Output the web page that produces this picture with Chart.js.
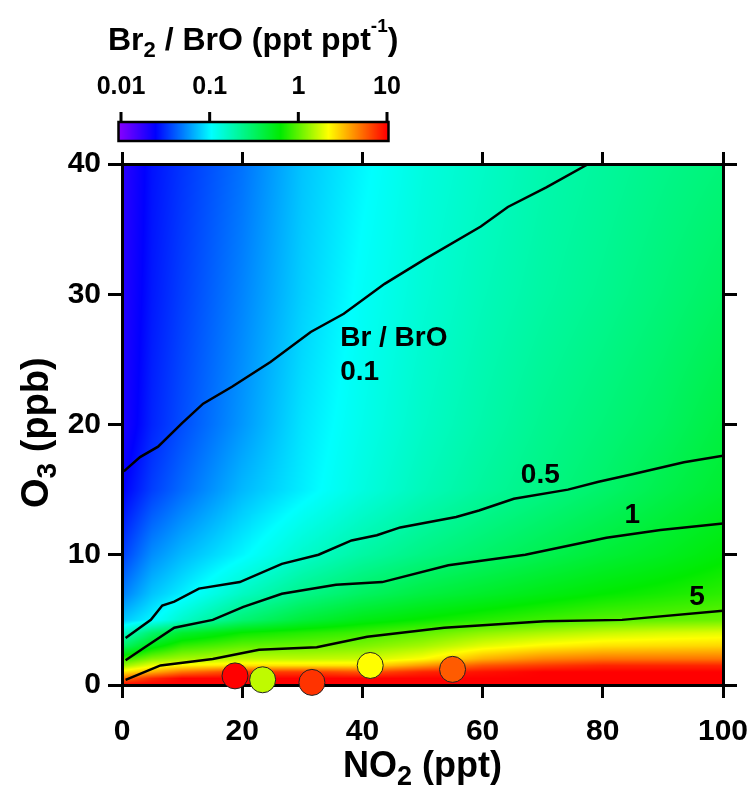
<!DOCTYPE html>
<html>
<head>
<meta charset="utf-8">
<script src="https://cdn.jsdelivr.net/npm/chart.js@4.4.1/dist/chart.umd.min.js"></script>
<style>
html, body { margin: 0; padding: 0; background: #fff; }
canvas { display: block; }
</style>
</head>
<body>
<canvas id="grafico" width="756" height="791" style="width:756px;height:791px"></canvas>
<script>
// grid of the modelled Br2/BrO field (ppt/ppt)
const no2Grid = [0, 5, 10, 20, 30, 40, 50, 60, 70, 80, 90, 100];
const o3Grid = [0, 0.5, 1, 1.5, 2, 3, 4, 5, 7, 10, 15, 20, 30, 40];
const ratioGrid = [
  [10, 10, 10, 10, 10, 10, 10, 10, 10, 10, 10, 10],
  [5, 8, 10, 10, 10, 10, 10, 10, 10, 10, 10, 10],
  [2.5, 3.5, 5, 7, 7, 6, 8, 9, 10, 10, 10, 10],
  [1.3, 2, 2.3, 2.6, 2.6, 2.6, 4, 6, 7, 8, 8, 8],
  [0.8, 1.2, 1.4, 1.6, 1.6, 1.7, 2.2, 3.5, 4.5, 5, 5, 5],
  [0.3, 0.55, 0.8, 1.0, 1.05, 1.15, 1.4, 1.9, 2.3, 2.6, 2.7, 2.8],
  [0.15, 0.3, 0.45, 0.65, 0.75, 0.85, 1.0, 1.25, 1.45, 1.65, 1.8, 1.9],
  [0.075, 0.1, 0.15, 0.28, 0.42, 0.55, 0.65, 0.75, 0.85, 0.95, 1.0, 1.05],
  [0.05, 0.075, 0.095, 0.16, 0.24, 0.32, 0.4, 0.47, 0.55, 0.63, 0.7, 0.78],
  [0.035, 0.055, 0.07, 0.1, 0.15, 0.2, 0.25, 0.3, 0.36, 0.43, 0.5, 0.6],
  [0.024, 0.035, 0.045, 0.07, 0.095, 0.13, 0.17, 0.21, 0.25, 0.3, 0.37, 0.45],
  [0.02, 0.03, 0.038, 0.058, 0.09, 0.12, 0.155, 0.19, 0.23, 0.27, 0.32, 0.4],
  [0.019, 0.028, 0.035, 0.052, 0.08, 0.11, 0.14, 0.17, 0.2, 0.23, 0.27, 0.32],
  [0.018, 0.027, 0.033, 0.047, 0.075, 0.1, 0.13, 0.155, 0.185, 0.21, 0.24, 0.27]
];

// Br/BrO contours
const c01_no2 = [0.3, 3, 6, 10, 13.5, 18.3, 24.7, 31.4, 36.9, 43.7, 50.4, 59.7, 64.2, 70.6, 77.6];
const c01_o3 = [16.4, 17.5, 18.3, 20.1, 21.6, 22.9, 24.8, 27.1, 28.5, 30.8, 32.7, 35.2, 36.7, 38.2, 40];
const c05_no2 = [0.6, 4.8, 6.7, 8.7, 12.8, 19.6, 26.6, 32.7, 38.2, 42.4, 46.3, 55.6, 59.4, 65.2, 74.2, 79.3, 85.1, 93.5, 100];
const c05_o3 = [3.6, 5.0, 6.1, 6.4, 7.4, 7.9, 9.3, 10.0, 11.1, 11.5, 12.1, 12.9, 13.4, 14.3, 15.0, 15.6, 16.2, 17.1, 17.6];
const c1_no2 = [0.6, 3.5, 8.7, 15.1, 20.2, 26.6, 35.6, 43.3, 54.3, 67.1, 80.6, 89.6, 100];
const c1_o3 = [1.9, 2.8, 4.4, 5.0, 6.0, 7.0, 7.7, 7.9, 9.2, 10.0, 11.3, 11.9, 12.4];
const c5_no2 = [0.6, 6.4, 15.1, 22.8, 32.4, 40.8, 53.6, 70.3, 83.2, 100];
const c5_o3 = [0.4, 1.5, 2.0, 2.7, 2.9, 3.7, 4.4, 4.9, 5.0, 5.7];

// observations
const obs_no2 = [18.8, 23.4, 31.6, 41.3, 55.0];
const obs_o3 = [0.7, 0.4, 0.2, 1.5, 1.2];
const obs_ratio = [10, 1.6, 7.4, 2.2, 5.8];

// contour labels
const labelText = ['Br / BrO', '0.1', '0.5', '1', '5'];
const label_no2 = [36.3, 36.3, 69.6, 84.9, 95.7];
const label_o3 = [26.6, 24.0, 16.1, 13.05, 6.75];
const labelAlign = ['left', 'left', 'center', 'center', 'center'];

// colour bar
const cbarTicks = [0.01, 0.1, 1, 10];
const cbarLabels = ['0.01', '0.1', '1', '10'];

const FONT = '"Liberation Sans", Arial, sans-serif';
const stops = [
  [0, [128, 0, 255]],
  [0.13, [0, 0, 255]],
  [0.34, [0, 255, 255]],
  [0.6, [0, 235, 0]],
  [0.78, [255, 255, 0]],
  [1, [255, 0, 0]]
];

function cmap(t) {
  t = Math.max(0, Math.min(1, t));
  for (let k = 1; k < stops.length; k++) {
    if (t <= stops[k][0]) {
      const a = stops[k - 1], b = stops[k];
      const f = (t - a[0]) / (b[0] - a[0]);
      return a[1].map((c, i) => Math.round(c + (b[1][i] - c) * f));
    }
  }
  return stops[stops.length - 1][1];
}
const logMin = Math.log10(cbarTicks[0]);
const logMax = Math.log10(cbarTicks[cbarTicks.length - 1]);
const ratioT = (v) => (Math.log10(v) - logMin) / (logMax - logMin);
const ratioColor = (v) => {
  const c = cmap(ratioT(v));
  return `rgb(${c[0]},${c[1]},${c[2]})`;
};

function cell(grid, v) {
  let i = 0;
  while (i < grid.length - 2 && v > grid[i + 1]) i++;
  const f = Math.max(0, Math.min(1, (v - grid[i]) / (grid[i + 1] - grid[i])));
  return [i, f];
}

const logGrid = ratioGrid.map(r => r.map(v => Math.log10(v)));

const heatmap = {
  id: 'heatmap',
  beforeDraw(chart) {
    const { ctx, chartArea: a, scales: { x, y } } = chart;
    const w = Math.round(a.right - a.left), h = Math.round(a.bottom - a.top);
    const off = document.createElement('canvas');
    off.width = w; off.height = h;
    const octx = off.getContext('2d');
    const img = octx.createImageData(w, h);
    for (let py = 0; py < h; py++) {
      const [j, fy] = cell(o3Grid, y.getValueForPixel(a.top + py + 0.5));
      for (let px = 0; px < w; px++) {
        const [i, fx] = cell(no2Grid, x.getValueForPixel(a.left + px + 0.5));
        const v = logGrid[j][i] * (1 - fx) * (1 - fy) + logGrid[j][i + 1] * fx * (1 - fy) +
                  logGrid[j + 1][i] * (1 - fx) * fy + logGrid[j + 1][i + 1] * fx * fy;
        const c = cmap((v - logMin) / (logMax - logMin));
        const k = (py * w + px) * 4;
        img.data[k] = c[0]; img.data[k + 1] = c[1]; img.data[k + 2] = c[2]; img.data[k + 3] = 255;
      }
    }
    octx.putImageData(img, 0, 0);
    ctx.drawImage(off, a.left, a.top);
  }
};

function drawParts(ctx, parts, x, y) {
  for (const p of parts) {
    ctx.font = `bold ${p.s}px ${FONT}`;
    ctx.fillText(p.t, x, y + (p.dy || 0));
    x += ctx.measureText(p.t).width;
  }
}

const extras = {
  id: 'extras',
  afterDatasetsDraw(chart) {
    const { ctx, scales: { x, y } } = chart;
    ctx.save();
    ctx.fillStyle = '#000';
    ctx.textBaseline = 'middle';
    ctx.font = `bold 28px ${FONT}`;
    labelText.forEach((t, i) => {
      ctx.textAlign = labelAlign[i];
      ctx.fillText(t, x.getPixelForValue(label_no2[i]), y.getPixelForValue(label_o3[i]));
    });
    ctx.restore();
  },
  afterDraw(chart) {
    const { ctx } = chart;
    ctx.save();
    ctx.fillStyle = '#000';
    ctx.textAlign = 'left';
    ctx.textBaseline = 'alphabetic';

    // x title
    drawParts(ctx, [{ t: 'NO', s: 36 }, { t: '2', s: 27, dy: 8 }, { t: ' (ppt)', s: 36 }], 343, 777);

    // y title
    ctx.save();
    ctx.translate(48, 508);
    ctx.rotate(-Math.PI / 2);
    drawParts(ctx, [{ t: 'O', s: 38 }, { t: '3', s: 28, dy: 8 }, { t: ' (ppb)', s: 38 }], 0, 0);
    ctx.restore();

    // colour bar
    const cx0 = 121, cx1 = 387, top = 122, bot = 141;
    const pos = (v) => cx0 + (cx1 - cx0) * ratioT(v);
    for (let px = 119; px < 389; px++) {
      const c = cmap((px + 0.5 - cx0) / (cx1 - cx0));
      ctx.fillStyle = `rgb(${c[0]},${c[1]},${c[2]})`;
      ctx.fillRect(px, top, 1, bot - top);
    }
    ctx.strokeStyle = '#000';
    ctx.lineWidth = 2.5;
    ctx.strokeRect(118.5, top, 270, bot - top);
    ctx.lineWidth = 3;
    ctx.beginPath();
    cbarTicks.forEach(v => {
      ctx.moveTo(pos(v), top);
      ctx.lineTo(pos(v), 112);
    });
    ctx.stroke();
    ctx.fillStyle = '#000';
    ctx.font = `bold 25px ${FONT}`;
    ctx.textAlign = 'center';
    ctx.textBaseline = 'middle';
    cbarTicks.forEach((v, i) => ctx.fillText(cbarLabels[i], pos(v), 87));
    ctx.textAlign = 'left';
    ctx.textBaseline = 'alphabetic';
    drawParts(ctx, [{ t: 'Br', s: 32 }, { t: '2', s: 22, dy: 7 }, { t: ' / BrO (ppt ppt', s: 32 },
      { t: '-1', s: 19, dy: -18 }, { t: ')', s: 32 }], 108, 50);
    ctx.restore();
  }
};

const line = (xs, ys) => ({
  type: 'line',
  data: xs.map((v, i) => ({ x: v, y: ys[i] })),
  borderColor: '#000',
  borderWidth: 2.5,
  pointRadius: 0,
  tension: 0,
  fill: false
});

const axisGrid = { drawOnChartArea: false, color: '#000', lineWidth: 3, tickWidth: 3, tickLength: 13 };
const axisBorder = { display: true, color: '#000', width: 3 };
const tickFont = { family: FONT, size: 30, weight: 'bold' };
const noPad = (s) => { s.paddingLeft = 0; s.paddingRight = 0; s.paddingTop = 0; s.paddingBottom = 0; };

const canvas = document.getElementById('grafico');
const myChart = new Chart(canvas, {
  type: 'scatter',
  data: {
    datasets: [
      line(c01_no2, c01_o3),
      line(c05_no2, c05_o3),
      line(c1_no2, c1_o3),
      line(c5_no2, c5_o3),
      {
        type: 'scatter',
        data: obs_no2.map((v, i) => ({ x: v, y: obs_o3[i] })),
        backgroundColor: obs_ratio.map(ratioColor),
        borderColor: '#222',
        borderWidth: 1,
        pointRadius: 13,
        clip: false
      }
    ]
  },
  options: {
    responsive: false,
    animation: false,
    layout: { padding: 0 },
    plugins: { legend: { display: false }, tooltip: { enabled: false } },
    scales: {
      x: {
        type: 'linear', position: 'bottom', min: 0, max: 100,
        ticks: { stepSize: 20, color: '#000', font: tickFont, padding: 16 },
        grid: axisGrid, border: axisBorder,
        afterFit: (s) => { s.height = 106; noPad(s); }
      },
      x2: {
        type: 'linear', position: 'top', min: 0, max: 100,
        ticks: { stepSize: 20, display: false },
        grid: { ...axisGrid, tickLength: 12 }, border: axisBorder,
        afterFit: (s) => { s.height = 164; noPad(s); }
      },
      y: {
        type: 'linear', position: 'left', min: 0, max: 40,
        ticks: { stepSize: 10, color: '#000', font: tickFont, padding: 7 },
        grid: { ...axisGrid, tickLength: 14 }, border: axisBorder,
        afterFit: (s) => { s.width = 122; noPad(s); }
      },
      y2: {
        type: 'linear', position: 'right', min: 0, max: 40,
        ticks: { stepSize: 10, display: false },
        grid: { ...axisGrid, tickLength: 14 }, border: axisBorder,
        afterFit: (s) => { s.width = 33; noPad(s); }
      }
    }
  },
  plugins: [heatmap, extras]
});
</script>
</body>
</html>
